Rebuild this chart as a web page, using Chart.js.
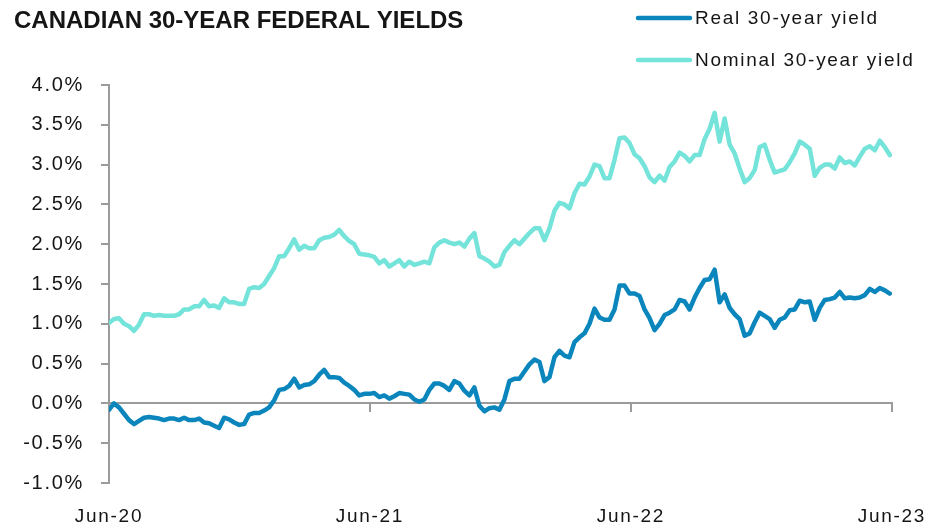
<!DOCTYPE html>
<html>
<head>
<meta charset="utf-8">
<script src="https://cdn.jsdelivr.net/npm/chart.js@4.4.0/dist/chart.umd.min.js"></script>
<style>
  html, body { margin: 0; padding: 0; background: #ffffff; }
  canvas { display: block; }
</style>
</head>
<body>
<canvas id="yields" width="943" height="529"></canvas>
<script>
// Canadian 30-year federal yields, weekly observations from 1 June 2020 (in %)
const chartTitle = 'CANADIAN 30-YEAR FEDERAL YIELDS';
const seriesNames = ['Real 30-year yield', 'Nominal 30-year yield'];
const seriesColors = ['#0a86bd', '#74e3d9'];

// x axis: days since 1 June 2020, labelled once a year
const tickDays = [0, 365, 730, 1095];
const tickLabels = ['Jun-20', 'Jun-21', 'Jun-22', 'Jun-23'];
const yTicks = [-1, -0.5, 0, 0.5, 1, 1.5, 2, 2.5, 3, 3.5, 4];

const realYield = [
  -0.08, 0.00, -0.05, -0.13, -0.21, -0.26, -0.22, -0.18, -0.17, -0.18,
  -0.19, -0.21, -0.19, -0.19, -0.21, -0.18, -0.21, -0.21, -0.19, -0.24,
  -0.25, -0.28, -0.31, -0.18, -0.20, -0.24, -0.27, -0.26, -0.14, -0.12,
  -0.12, -0.09, -0.05, 0.04, 0.17, 0.18, 0.22, 0.31, 0.20, 0.23,
  0.24, 0.28, 0.36, 0.42, 0.33, 0.33, 0.32, 0.26, 0.22, 0.17,
  0.10, 0.12, 0.12, 0.13, 0.08, 0.10, 0.06, 0.09, 0.13, 0.12,
  0.11, 0.05, 0.02, 0.05, 0.17, 0.25, 0.25, 0.22, 0.17, 0.28,
  0.25, 0.16, 0.10, 0.20, -0.03, -0.10, -0.06, -0.05, -0.08, 0.05,
  0.28, 0.31, 0.31, 0.40, 0.49, 0.55, 0.52, 0.28, 0.33, 0.58,
  0.66, 0.60, 0.58, 0.77, 0.83, 0.88, 1.00, 1.19, 1.08, 1.05,
  1.05, 1.18, 1.48, 1.48, 1.38, 1.38, 1.35, 1.18, 1.07, 0.92,
  1.00, 1.11, 1.14, 1.18, 1.30, 1.28, 1.18, 1.33, 1.45, 1.55,
  1.56, 1.68, 1.27, 1.37, 1.20, 1.12, 1.06, 0.85, 0.88, 1.02,
  1.14, 1.10, 1.06, 0.95, 1.05, 1.08, 1.17, 1.18, 1.29, 1.27,
  1.28, 1.05, 1.20, 1.30, 1.31, 1.33, 1.40, 1.32, 1.33, 1.32,
  1.33, 1.36, 1.44, 1.40, 1.45, 1.42, 1.38
];

const nominalYield = [
  1.01, 1.06, 1.07, 1.00, 0.97, 0.91, 0.99, 1.12, 1.12, 1.10,
  1.11, 1.10, 1.10, 1.10, 1.12, 1.18, 1.18, 1.22, 1.22, 1.30,
  1.22, 1.23, 1.20, 1.32, 1.27, 1.27, 1.25, 1.25, 1.44, 1.46,
  1.45, 1.50, 1.60, 1.70, 1.85, 1.85, 1.95, 2.06, 1.93, 1.98,
  1.95, 1.95, 2.05, 2.08, 2.09, 2.12, 2.18, 2.10, 2.04, 2.00,
  1.88, 1.87, 1.86, 1.84, 1.76, 1.80, 1.72, 1.76, 1.80, 1.72,
  1.78, 1.74, 1.76, 1.78, 1.76, 1.96, 2.02, 2.05, 2.02, 2.00,
  2.02, 1.97, 2.07, 2.14, 1.85, 1.82, 1.78, 1.72, 1.74, 1.90,
  1.98, 2.05, 2.00, 2.07, 2.14, 2.20, 2.20, 2.05, 2.20, 2.42,
  2.52, 2.50, 2.45, 2.64, 2.76, 2.75, 2.85, 3.00, 2.98, 2.83,
  2.83, 3.06, 3.33, 3.34, 3.27, 3.13, 3.08, 2.98, 2.84, 2.78,
  2.86, 2.80, 2.97, 3.04, 3.15, 3.11, 3.04, 3.12, 3.12, 3.32,
  3.45, 3.65, 3.29, 3.58, 3.25, 3.14, 2.95, 2.78, 2.83, 2.93,
  3.22, 3.25, 3.06, 2.90, 2.92, 2.94, 3.03, 3.14, 3.29, 3.25,
  3.20, 2.86, 2.96, 3.00, 3.00, 2.95, 3.09, 3.02, 3.04, 2.99,
  3.10, 3.20, 3.23, 3.18, 3.30, 3.22, 3.12
];

// one observation per week
const dayOffsets = realYield.map((_, i) => i * 7);

const FONT = '"Liberation Sans", Arial, Helvetica, sans-serif';
const TEXT = '#151515';
const AXIS = '#9b9b9b';
const SPACING = '1.7px';

const toPoints = (values) => values.map((v, i) => ({ x: dayOffsets[i], y: v }));
const yearTicks = (scale) => { scale.ticks = tickDays.map(v => ({ value: v })); };

// Title and the two-row legend in the upper band
const headerPlugin = {
  id: 'header',
  beforeDraw(chart) {
    chart.ctx.letterSpacing = SPACING;
  },
  afterDraw(chart) {
    const ctx = chart.ctx;
    ctx.save();
    ctx.letterSpacing = '0px';
    ctx.fillStyle = TEXT;
    ctx.font = 'bold 24px ' + FONT;
    ctx.textAlign = 'left';
    ctx.textBaseline = 'alphabetic';
    ctx.fillText(chartTitle, 14, 28);

    ctx.letterSpacing = SPACING;
    ctx.font = '19px ' + FONT;
    ctx.textBaseline = 'middle';
    const rows = [18, 60];
    seriesNames.forEach((name, k) => {
      const y = rows[k];
      ctx.strokeStyle = seriesColors[k];
      ctx.lineWidth = 4.5;
      ctx.lineCap = 'round';
      ctx.beginPath();
      ctx.moveTo(638, y);
      ctx.lineTo(690, y);
      ctx.stroke();
      ctx.fillStyle = TEXT;
      ctx.fillText(name, 695, y + 1);
    });
    ctx.restore();
  }
};

new Chart(document.getElementById('yields'), {
  type: 'line',
  data: {
    datasets: [
      {
        label: seriesNames[1],
        data: toPoints(nominalYield),
        borderColor: seriesColors[1],
        borderWidth: 4.5,
        pointRadius: 0,
        tension: 0,
        borderJoinStyle: 'round',
        borderCapStyle: 'round'
      },
      {
        label: seriesNames[0],
        data: toPoints(realYield),
        borderColor: seriesColors[0],
        borderWidth: 4.5,
        pointRadius: 0,
        tension: 0,
        borderJoinStyle: 'round',
        borderCapStyle: 'round'
      }
    ]
  },
  options: {
    responsive: false,
    animation: false,
    devicePixelRatio: 1,
    layout: { padding: { top: 85, left: 0, right: 49, bottom: 0 } },
    plugins: {
      legend: { display: false },
      title: { display: false },
      tooltip: { enabled: false }
    },
    scales: {
      x: {
        type: 'linear',
        position: 'bottom',
        min: 0,
        max: 1095,
        afterBuildTicks: yearTicks,
        afterFit: (s) => { s.height = 46; },
        grid: { display: false, drawTicks: false },
        border: { display: false },
        ticks: {
          padding: 22,
          autoSkip: false,
          maxRotation: 0,
          color: TEXT,
          font: { family: FONT, size: 19 },
          callback: (v) => tickLabels[tickDays.indexOf(v)]
        }
      },
      zero: {
        type: 'linear',
        axis: 'x',
        position: { y: 0 },
        min: 0,
        max: 1095,
        afterBuildTicks: yearTicks,
        grid: { drawOnChartArea: false, drawTicks: true, tickLength: 8, color: AXIS, lineWidth: 2 },
        border: { display: true, color: AXIS, width: 2 },
        ticks: { display: false }
      },
      y: {
        type: 'linear',
        position: 'left',
        min: -1,
        max: 4,
        afterBuildTicks: (s) => { s.ticks = yTicks.map(v => ({ value: v })); },
        afterFit: (s) => { s.width = 109; },
        grid: { drawOnChartArea: false, drawTicks: true, tickLength: 8, color: AXIS, lineWidth: 2 },
        border: { display: true, color: AXIS, width: 2 },
        ticks: {
          padding: 17,
          color: TEXT,
          font: { family: FONT, size: 20 },
          callback: (v) => v.toFixed(1) + '%'
        }
      }
    }
  },
  plugins: [headerPlugin]
});
</script>
</body>
</html>
